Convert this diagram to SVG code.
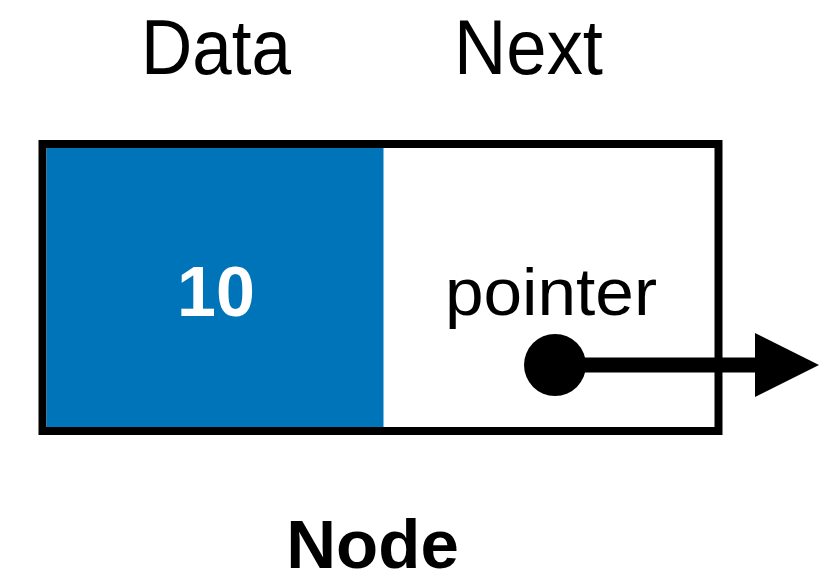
<svg xmlns="http://www.w3.org/2000/svg" width="840" height="584" viewBox="0 0 840 584">
<defs>
<style>
.lbl{font-family:"Liberation Sans",Arial,Helvetica,sans-serif;fill:#000}
.b{font-weight:bold}
</style>
<marker id="ah" markerUnits="userSpaceOnUse" markerWidth="66" markerHeight="66" refX="0" refY="32" orient="auto"><polygon points="0,0 64,32 0,64" fill="#000"/></marker>
</defs>
<rect width="840" height="584" fill="#fff"/>
<text class="lbl" x="141" y="74" font-size="78" textLength="150" lengthAdjust="spacingAndGlyphs">Data</text>
<text class="lbl" x="454" y="74" font-size="78" textLength="149" lengthAdjust="spacingAndGlyphs">Next</text>
<g id="node">
<rect x="42.5" y="144" width="676" height="287" fill="#fff" stroke="#000" stroke-width="8"/>
<rect x="46.5" y="148" width="337" height="279" fill="#0074B9"/>
<text class="lbl b" x="216" y="316" font-size="70" style="fill:#fff" text-anchor="middle">10</text>
<text class="lbl" x="445" y="315" font-size="66" textLength="212" lengthAdjust="spacingAndGlyphs">pointer</text>
</g>
<g id="connectors">
<circle cx="555" cy="365" r="31" fill="#000"/>
<line x1="555" y1="365" x2="755" y2="365" stroke="#000" stroke-width="15" marker-end="url(#ah)"/>
</g>
<text class="lbl b" x="372.5" y="568" font-size="69" text-anchor="middle">Node</text>
</svg>
